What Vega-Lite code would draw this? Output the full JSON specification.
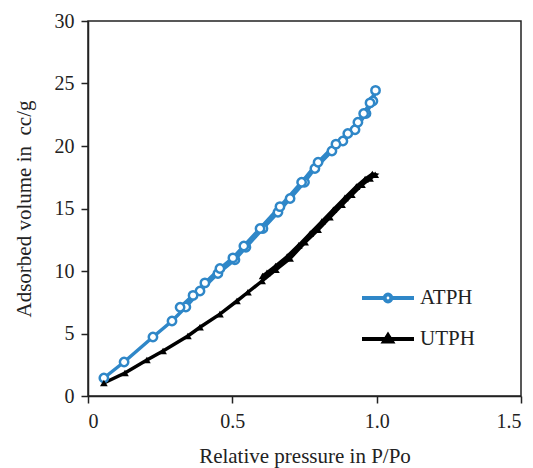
{
  "$schema": "https://vega.github.io/schema/vega-lite/v6.json",
  "autosize": "none",
  "width": 433,
  "height": 375,
  "padding": {"left": 88, "top": 21, "right": 12, "bottom": 72},
  "background": "white",
  "config": {
    "font": "Liberation Serif",
    "view": {"stroke": "#222", "strokeWidth": 1.5},
    "axis": {
      "grid": false,
      "domainColor": "#222",
      "domainWidth": 1.5,
      "tickColor": "#222",
      "tickWidth": 1.5,
      "tickSize": 7,
      "labelFont": "Liberation Serif",
      "labelFontSize": 20,
      "labelColor": "#222",
      "titleFont": "Liberation Serif",
      "titleFontSize": 21,
      "titleFontWeight": "normal",
      "titleColor": "#222"
    },
    "legend": {
      "labelFont": "Liberation Serif",
      "labelFontSize": 21,
      "labelColor": "#222"
    }
  },
  "data": {
    "values": [
      {"series": "ATPH", "order": 1, "x": 0.055, "y": 1.44},
      {"series": "ATPH", "order": 2, "x": 0.125, "y": 2.72},
      {"series": "ATPH", "order": 3, "x": 0.225, "y": 4.72},
      {"series": "ATPH", "order": 4, "x": 0.291, "y": 6.0},
      {"series": "ATPH", "order": 5, "x": 0.339, "y": 7.12},
      {"series": "ATPH", "order": 6, "x": 0.388, "y": 8.4},
      {"series": "ATPH", "order": 7, "x": 0.45, "y": 9.8},
      {"series": "ATPH", "order": 8, "x": 0.509, "y": 10.9},
      {"series": "ATPH", "order": 9, "x": 0.547, "y": 11.9},
      {"series": "ATPH", "order": 10, "x": 0.606, "y": 13.4},
      {"series": "ATPH", "order": 11, "x": 0.658, "y": 14.7},
      {"series": "ATPH", "order": 12, "x": 0.7, "y": 15.8},
      {"series": "ATPH", "order": 13, "x": 0.75, "y": 17.1},
      {"series": "ATPH", "order": 14, "x": 0.786, "y": 18.2},
      {"series": "ATPH", "order": 15, "x": 0.845, "y": 19.6},
      {"series": "ATPH", "order": 16, "x": 0.883, "y": 20.4},
      {"series": "ATPH", "order": 17, "x": 0.925, "y": 21.3},
      {"series": "ATPH", "order": 18, "x": 0.963, "y": 22.6},
      {"series": "ATPH", "order": 19, "x": 0.987, "y": 23.6},
      {"series": "ATPH", "order": 20, "x": 0.996, "y": 24.45},
      {"series": "ATPH", "order": 21, "x": 0.977, "y": 23.45},
      {"series": "ATPH", "order": 22, "x": 0.955, "y": 22.6},
      {"series": "ATPH", "order": 23, "x": 0.935, "y": 21.9},
      {"series": "ATPH", "order": 24, "x": 0.9, "y": 21.0},
      {"series": "ATPH", "order": 25, "x": 0.859, "y": 20.15},
      {"series": "ATPH", "order": 26, "x": 0.797, "y": 18.7},
      {"series": "ATPH", "order": 27, "x": 0.74, "y": 17.1},
      {"series": "ATPH", "order": 28, "x": 0.665, "y": 15.15},
      {"series": "ATPH", "order": 29, "x": 0.596, "y": 13.4},
      {"series": "ATPH", "order": 30, "x": 0.54, "y": 12.0},
      {"series": "ATPH", "order": 31, "x": 0.502, "y": 11.05},
      {"series": "ATPH", "order": 32, "x": 0.457, "y": 10.2},
      {"series": "ATPH", "order": 33, "x": 0.405, "y": 9.05},
      {"series": "ATPH", "order": 34, "x": 0.364, "y": 8.05},
      {"series": "ATPH", "order": 35, "x": 0.319, "y": 7.1},
      {"series": "UTPH", "order": 1, "x": 0.055, "y": 1.04},
      {"series": "UTPH", "order": 2, "x": 0.128, "y": 1.84},
      {"series": "UTPH", "order": 3, "x": 0.204, "y": 2.88},
      {"series": "UTPH", "order": 4, "x": 0.26, "y": 3.6},
      {"series": "UTPH", "order": 5, "x": 0.346, "y": 4.8},
      {"series": "UTPH", "order": 6, "x": 0.388, "y": 5.5},
      {"series": "UTPH", "order": 7, "x": 0.457, "y": 6.55},
      {"series": "UTPH", "order": 8, "x": 0.516, "y": 7.6},
      {"series": "UTPH", "order": 9, "x": 0.554, "y": 8.3},
      {"series": "UTPH", "order": 10, "x": 0.603, "y": 9.2},
      {"series": "UTPH", "order": 11, "x": 0.651, "y": 10.1},
      {"series": "UTPH", "order": 12, "x": 0.7, "y": 11.0},
      {"series": "UTPH", "order": 13, "x": 0.752, "y": 12.3},
      {"series": "UTPH", "order": 14, "x": 0.797, "y": 13.3},
      {"series": "UTPH", "order": 15, "x": 0.838, "y": 14.3},
      {"series": "UTPH", "order": 16, "x": 0.88, "y": 15.3},
      {"series": "UTPH", "order": 17, "x": 0.914, "y": 16.1},
      {"series": "UTPH", "order": 18, "x": 0.949, "y": 16.9},
      {"series": "UTPH", "order": 19, "x": 0.977, "y": 17.4},
      {"series": "UTPH", "order": 20, "x": 0.995, "y": 17.7},
      {"series": "UTPH", "order": 21, "x": 0.985, "y": 17.75},
      {"series": "UTPH", "order": 22, "x": 0.96, "y": 17.35},
      {"series": "UTPH", "order": 23, "x": 0.93, "y": 16.75},
      {"series": "UTPH", "order": 24, "x": 0.89, "y": 15.85},
      {"series": "UTPH", "order": 25, "x": 0.85, "y": 14.9},
      {"series": "UTPH", "order": 26, "x": 0.81, "y": 13.95},
      {"series": "UTPH", "order": 27, "x": 0.77, "y": 13.0},
      {"series": "UTPH", "order": 28, "x": 0.73, "y": 12.05},
      {"series": "UTPH", "order": 29, "x": 0.69, "y": 11.15},
      {"series": "UTPH", "order": 30, "x": 0.65, "y": 10.4},
      {"series": "UTPH", "order": 31, "x": 0.62, "y": 9.85},
      {"series": "UTPH", "order": 32, "x": 0.605, "y": 9.6}
    ]
  },
  "encoding": {
    "x": {
      "field": "x",
      "type": "quantitative",
      "scale": {"domain": [0, 1.5], "nice": false},
      "axis": {
        "title": "Relative pressure in P/Po",
        "values": [0, 0.5, 1, 1.5],
        "labelExpr": "datum.value == 0 ? '0' : format(datum.value, '.1f')",
        "labelPadding": 8,
        "titlePadding": 14
      }
    },
    "y": {
      "field": "y",
      "type": "quantitative",
      "scale": {"domain": [0, 30], "nice": false},
      "axis": {
        "title": "Adsorbed volume in \u00a0cc/g",
        "values": [0, 5, 10, 15, 20, 25, 30],
        "labelPadding": 7,
        "titlePadding": 20
      }
    }
  },
  "layer": [
    {
      "mark": {"type": "line", "strokeWidth": 3.5},
      "encoding": {
        "order": {"field": "order", "type": "quantitative"},
        "color": {
          "field": "series",
          "type": "nominal",
          "scale": {"domain": ["ATPH", "UTPH"], "range": ["#2F87C8", "#000000"]},
          "legend": {
            "title": null,
            "orient": "none",
            "legendX": 272,
            "legendY": 249,
            "padding": 0,
            "symbolSize": 2704,
            "symbolStrokeWidth": 4,
            "labelOffset": 4,
            "rowPadding": 1,
            "encode": {
              "symbols": {
                "update": {
                  "shape": {"signal": "datum.value == 'ATPH' ? 'M-1,0H-0.13M0.13,0H1M0.13,0A0.13,0.13 0 1,1 -0.13,0A0.13,0.13 0 1,1 0.13,0' : 'M-1,0H1M0,-0.14L0.15,0.1H-0.15Z'"},
                  "fill": {"signal": "datum.value == 'ATPH' ? 'white' : 'black'"},
                  "strokeWidth": {"value": 4}
                }
              }
            }
          }
        }
      }
    },
    {
      "transform": [{"filter": "datum.series == 'ATPH'"}],
      "mark": {"type": "point", "shape": "circle", "size": 70, "filled": false, "fill": "white", "fillOpacity": 1, "stroke": "#2F87C8", "strokeWidth": 2.5, "opacity": 1}
    },
    {
      "transform": [{"filter": "datum.series == 'UTPH'"}],
      "mark": {"type": "point", "shape": "triangle-up", "size": 60, "filled": true, "color": "#000000", "opacity": 1}
    }
  ]
}
